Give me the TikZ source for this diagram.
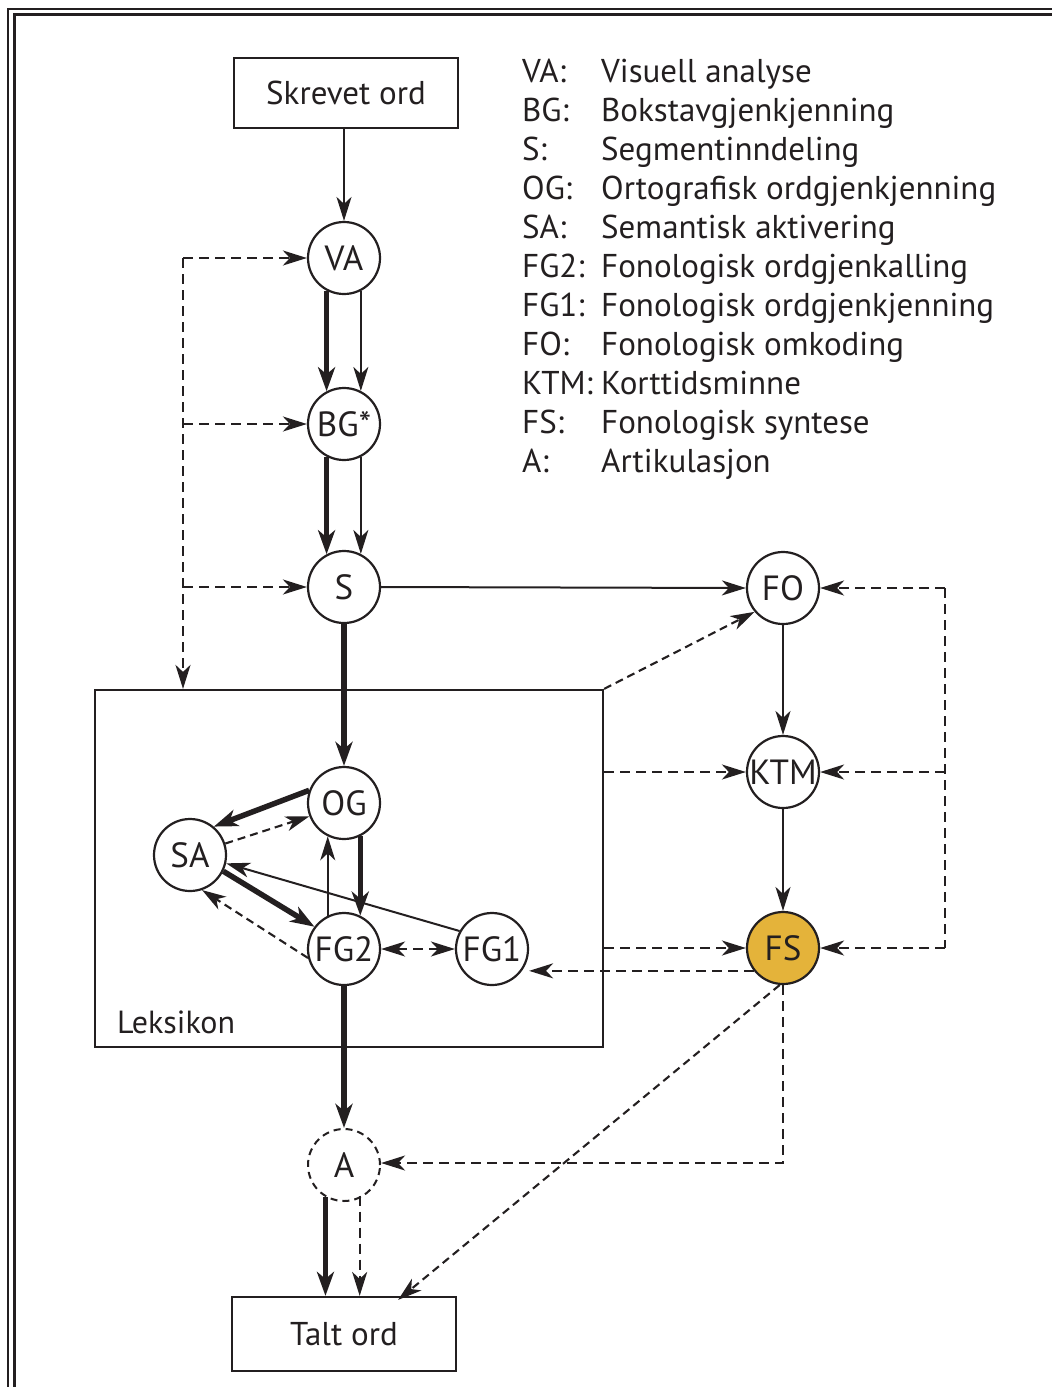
\documentclass[tikz,border=0pt]{standalone}
\usepackage{fontspec}
\setmainfont{PT Sans}
\usetikzlibrary{arrows.meta}
\definecolor{fsgold}{RGB}{228,179,58}
\definecolor{ink}{RGB}{35,31,32}
\begin{document}
\begin{tikzpicture}[x=1pt,y=-1pt,
  every node/.style={text=ink},
  circ/.style={circle,draw=ink,line width=2.2pt,minimum size=72pt,inner sep=0pt,font=\fontsize{35}{40}\selectfont},
  wordbox/.style={draw=ink,line width=2.2pt,minimum width=224pt,inner sep=0pt,font=\fontsize{33}{40}\selectfont},
  legtxt/.style={anchor=base west,inner sep=0pt,font=\fontsize{33}{38}\selectfont},
  tip/.style={-{Stealth[length=24pt,width=15pt,inset=7pt]}},
  bigtip/.style={-{Stealth[length=24pt,width=17pt,inset=7pt]}},
  thinarrow/.style={draw=ink,line width=2pt,tip},
  thickarrow/.style={draw=ink,line width=5.5pt,bigtip},
  dasharrow/.style={draw=ink,line width=2.1pt,dash pattern=on 10pt off 6pt,tip},
  dashline/.style={draw=ink,line width=2.1pt,dash pattern=on 10pt off 6pt},
]
\useasboundingbox (0,0) rectangle (1052,1387);
% frame
\draw[ink,line width=1.5pt] (8,1387) -- (8,9) -- (1052,9);
\draw[ink,line width=3pt] (14,1387) -- (14,14.5) -- (1052,14.5);

% lexicon box
\node[draw=ink,line width=2.2pt,minimum width=508pt,minimum height=357pt,inner sep=0pt] (lex) at (349,868.5) {};
\node[anchor=base west,inner sep=0pt,font=\fontsize{32}{37}\selectfont] (lexlabel) at (117,1033) {Leksikon};

% nodes
\node[wordbox,minimum height=70pt] (skrevet) at (346,93) {Skrevet ord};
\node[wordbox,minimum height=74pt] (talt) at (344,1334) {Talt ord};
\node[circ] (VA) at (344,258) {VA};
\node[circ] (BG) at (344,424) {BG*};
\node[circ] (S) at (344,587) {S};
\node[circ] (OG) at (344,803) {OG};
\node[circ] (SA) at (190,855) {SA};
\node[circ] (FG2) at (344,949) {FG2};
\node[circ] (FG1) at (492,949) {FG1};
\node[circ] (FO) at (783,588) {FO};
\node[circ] (KTM) at (783,772) {KTM};
\node[circ,fill=fsgold] (FS) at (783,948) {FS};
\node[circ,draw=none] (A) at (344,1165) {A};
\draw[ink,line width=2pt,dash pattern=on 7pt off 5pt] (A) circle (36pt);

% legend
\foreach \ab/\txt [count=\i from 0] in {VA:/Visuell analyse,BG:/Bokstavgjenkjenning,S:/Segmentinndeling,OG:/Ortografisk ordgjenkjenning,SA:/Semantisk aktivering,FG2:/Fonologisk ordgjenkalling,FG1:/Fonologisk ordgjenkjenning,FO:/Fonologisk omkoding,KTM:/Korttidsminne,FS:/Fonologisk syntese,A:/Artikulasjon}{
  \node[legtxt] (lab\i) at (522,82+39*\i) {\ab};
  \node[legtxt] (def\i) at (601,82+39*\i) {\txt};
}

% main column
\draw[thinarrow] (skrevet.south -| VA.north) -- (VA.north);
\draw[thickarrow] (VA.-118) -- (BG.118);
\draw[thinarrow] (VA.-63) -- (BG.63);
\draw[thickarrow] (BG.-118) -- (S.118);
\draw[thinarrow] (BG.-63) -- (S.63);
\draw[thickarrow] (S.south) -- (OG.north);
\draw[thickarrow] (FG2.south) -- (A.north);
\draw[thickarrow] (A.-120) -- (A.-120 |- talt.north);
\draw[dasharrow] ([yshift=3pt]A.-65) -- (A.-65 |- talt.north);

% lexicon internals
\draw[thickarrow] (OG.160) -- (SA.50);
\draw[dasharrow,dash pattern=on 8pt off 5pt] (SA.18) -- (OG.-159);
\draw[thinarrow] (FG2.116) -- (OG.-116);
\draw[thickarrow] (OG.-64) -- (FG2.64);
\draw[thickarrow] (SA.-26) -- (FG2.143);
\draw[dasharrow,dash pattern=on 8pt off 5pt] (FG2.-166) -- (SA.-71);
\draw[thinarrow] (FG1.151) -- (SA.-13);
\draw[dasharrow,{Stealth[length=24pt,width=15pt,inset=7pt]}-{Stealth[length=24pt,width=15pt,inset=7pt]}] (FG2.east) -- (FG1.west);

% right column
\draw[thinarrow] (S.east) -- (FO.west);
\draw[thinarrow] (FO.south) -- (KTM.north);
\draw[thinarrow] (KTM.south) -- (FS.north);

% left feedback loop
\coordinate (Ltop) at (183,258);
\draw[dasharrow] (Ltop) -- (Ltop |- lex.north);
\draw[dasharrow] (Ltop) -- (VA.west);
\draw[dasharrow] (Ltop |- BG) -- (BG.west);
\draw[dasharrow] (Ltop |- S) -- (S.west);

% right feedback loop
\coordinate (Rtop) at (945,588);
\draw[dashline] (Rtop) -- (Rtop |- FS);
\draw[dasharrow] (Rtop) -- (FO.east);
\draw[dasharrow] (Rtop |- KTM) -- (KTM.east);
\draw[dasharrow] (Rtop |- FS) -- (FS.east);

% lexicon to right column
\draw[dasharrow,dash pattern=on 8pt off 5pt] (lex.north east) -- (FO.-140);
\draw[dasharrow] (lex.east |- KTM) -- (KTM.west);
\draw[dasharrow] (lex.east |- FS) -- (FS.west);
\draw[dasharrow] (FS.-142) -- (FS.-142 -| FG1.east);

% FS outputs
\draw[dasharrow] (FS.south) |- ([yshift=2pt]A.east);
\draw[dasharrow,dash pattern=on 8pt off 5pt] (FS.-95) -- ([xshift=-59pt,yshift=-4pt]talt.north east);
\end{tikzpicture}
\end{document}
